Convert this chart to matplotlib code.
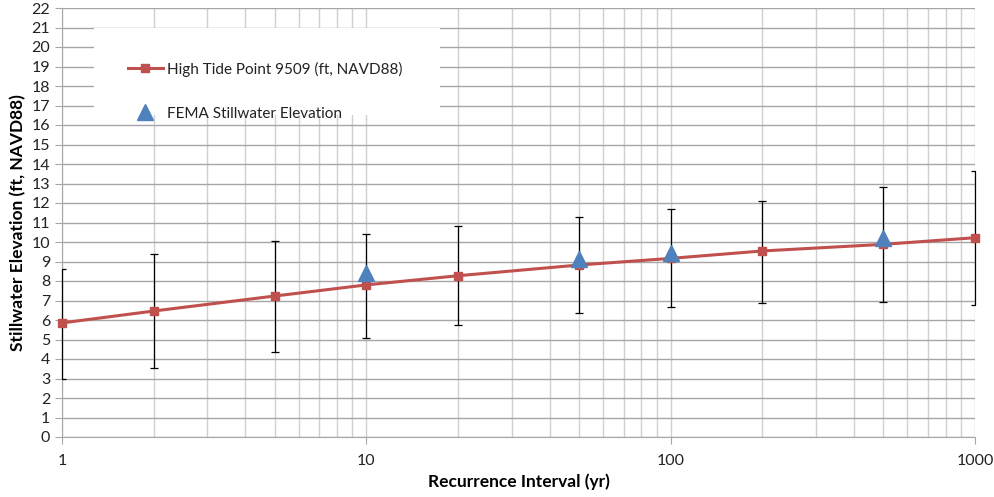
import numpy as np
import matplotlib
matplotlib.use("Agg")
import matplotlib.pyplot as plt
from matplotlib.patches import Rectangle
from matplotlib.ticker import LogLocator, NullFormatter, FixedLocator

# recurrence intervals and high tide point values
intervalli = [1, 2, 5, 10, 20, 50, 100, 200, 500, 1000]
high_tide = [5.85, 6.46, 7.23, 7.80, 8.27, 8.82, 9.16, 9.54, 9.88, 10.22]
err_alto = [8.62, 9.40, 10.05, 10.40, 10.80, 11.30, 11.67, 12.10, 12.80, 13.66]
err_basso = [2.98, 3.52, 4.36, 5.10, 5.76, 6.34, 6.67, 6.87, 6.92, 6.78]

# FEMA stillwater elevation
fema_x = [10, 50, 100, 500]
fema_y = [8.42, 9.12, 9.42, 10.22]

yticks = list(range(0, 23))
xticks = [1, 10, 100, 1000]

plt.rcParams['font.family'] = ['Lato', 'DejaVu Sans']

fig = plt.figure(figsize=(9.95, 4.97), dpi=100)
ax = fig.add_axes([62/995, 60/497, 913/995, 429/497])

ax.set_xscale('log')
ax.set_xlim(1, 1000)
ax.set_ylim(0, 22)

ax.yaxis.set_major_locator(FixedLocator(yticks))
ax.xaxis.set_major_locator(FixedLocator(xticks))
ax.xaxis.set_major_formatter(plt.FuncFormatter(lambda v, p: f"{int(v)}"))
ax.xaxis.set_minor_locator(LogLocator(base=10, subs=np.arange(2, 10)))
ax.xaxis.set_minor_formatter(NullFormatter())

ax.grid(True, which='major', axis='y', color='#a6a6a6', lw=1)
ax.grid(True, which='major', axis='x', color='#d0d0d0', lw=1)
ax.grid(True, which='minor', axis='x', color='#d0d0d0', lw=1)
ax.set_axisbelow(True)

for s in ['top', 'right']:
    ax.spines[s].set_visible(False)
for s in ['left', 'bottom']:
    ax.spines[s].set_color('#a6a6a6')

ax.tick_params(axis='both', which='major', length=5, color='#a6a6a6',
               labelsize=11.5, labelcolor='#222222')
ax.tick_params(axis='x', which='minor', length=0)
ax.tick_params(axis='x', pad=7)

# white box behind legend
ax.add_patch(Rectangle((32/913, (437-115)/429), 346/913, 87/429,
                       transform=ax.transAxes, facecolor='white',
                       edgecolor='none', zorder=1.5))

hx = np.array(high_tide)
yerr = [hx - np.array(err_basso), np.array(err_alto) - hx]
eb = ax.errorbar(intervalli, high_tide, yerr=yerr, fmt='none', ecolor='black',
                 elinewidth=0.9, capsize=3, capthick=0.9, zorder=3)
for lc in eb[2]:
    lc.set_clip_on(False)
linea, = ax.plot(intervalli, high_tide, color='#C0504D', lw=2.2, marker='s',
                 markersize=6, zorder=4, clip_on=False,
                 label='High Tide Point 9509 (ft, NAVD88)')
tri, = ax.plot(fema_x, fema_y, ls='none', marker='^', color='#4F81BD',
               markersize=12, zorder=5, label='FEMA Stillwater Elevation')

ax.legend(handles=[linea, tri], loc='upper left', bbox_to_anchor=(52/913, 1 - 40/429),
          frameon=False, fontsize=11, labelspacing=1.95, handlelength=2.3,
          handletextpad=0.3, labelcolor='#222222')

ax.set_xlabel('Recurrence Interval (yr)', fontweight='bold', fontsize=12.5, labelpad=4)
ax.set_ylabel('Stillwater Elevation (ft, NAVD88)', fontweight='bold', fontsize=12.5, labelpad=4)

fig.savefig('out.png', dpi=100)
